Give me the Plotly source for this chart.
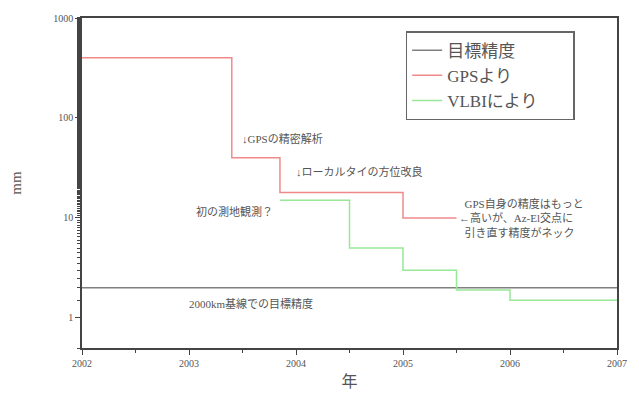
import plotly.graph_objects as go

# data
gps_x = [2002, 2003.4, 2003.85, 2005.0, 2005.5]
gps_y = [400, 40, 18, 10, 10]
vlbi_x = [2003.85, 2004.5, 2005.0, 2005.5, 2006.0, 2007.0]
vlbi_y = [15, 5, 3, 1.9, 1.5, 1.5]
target_x = [2002, 2007]
target_y = [2, 2]
x_ticks = [2002, 2003, 2004, 2005, 2006, 2007]
y_ticks = [1, 10, 100, 1000]

FONT = "Liberation Serif, Noto Sans CJK JP, serif"
TXT = "#555555"

fig = go.Figure()
fig.add_trace(go.Scatter(x=target_x, y=target_y, mode="lines", name="目標精度",
                         line=dict(color="#808080", width=1.5)))
fig.add_trace(go.Scatter(x=gps_x, y=gps_y, mode="lines", name="GPSより",
                         line=dict(color="#f08a8a", width=1.5, shape="hv")))
fig.add_trace(go.Scatter(x=vlbi_x, y=vlbi_y, mode="lines", name="VLBIにより" + "\u00a0" * 7,
                         line=dict(color="#98e898", width=1.5, shape="hv")))

ann = [
    (2003.48, 1.79, "↓GPSの精密解析"),
    (2003.98, 1.46, "↓ローカルタイの方位改良"),
    (2003.05, 1.06, "初の測地観測？"),
    (2002.98, 0.14, "2000km基線での目標精度"),
]
for x, ly, t in ann:
    fig.add_annotation(x=x, y=ly, text=t, showarrow=False, xanchor="left",
                       font=dict(family=FONT, size=11, color=TXT))
fig.add_annotation(x=2005.5, y=1.0, text="  GPS自身の精度はもっと<br>←高いが、Az-El交点に<br>  引き直す精度がネック",
                   showarrow=False, xanchor="left", align="left",
                   font=dict(family=FONT, size=11, color=TXT))

fig.update_layout(
    width=639, height=403,
    margin=dict(l=82, r=14, t=13, b=55),
    plot_bgcolor="white", paper_bgcolor="white",
    font=dict(family=FONT, color=TXT),
    showlegend=True,
    legend=dict(x=0.605, y=0.96, xanchor="left", yanchor="top",
                bordercolor="#666666", borderwidth=1.5, bgcolor="white",
                font=dict(family=FONT, size=17, color=TXT),
                tracegroupgap=0),
)
fig.update_xaxes(range=[2002, 2007], tickvals=x_ticks, ticktext=[str(v) for v in x_ticks],
                 ticks="outside", ticklen=5, tickcolor="#444",
                 minor=dict(dtick=0.5, ticks="outside", ticklen=3, tickcolor="#444"),
                 showline=True, linecolor="#444", linewidth=1.5, mirror=True,
                 showgrid=False, zeroline=False,
                 tickfont=dict(family=FONT, size=10, color=TXT),
                 title=dict(text="年", font=dict(family=FONT, size=16, color=TXT), standoff=8))
fig.update_yaxes(type="log", range=[-0.301, 3], tickvals=y_ticks,
                 ticktext=[str(v) for v in y_ticks],
                 ticks="outside", ticklen=5, tickcolor="#444",
                 minor=dict(ticks="outside", ticklen=3, tickcolor="#444", showgrid=False),
                 showline=True, linecolor="#444", linewidth=1.5, mirror=True,
                 showgrid=False, zeroline=False,
                 tickfont=dict(family=FONT, size=10, color=TXT),
                 title=dict(text="mm", font=dict(family=FONT, size=15, color=TXT), standoff=28))

fig.write_html("out.html")
